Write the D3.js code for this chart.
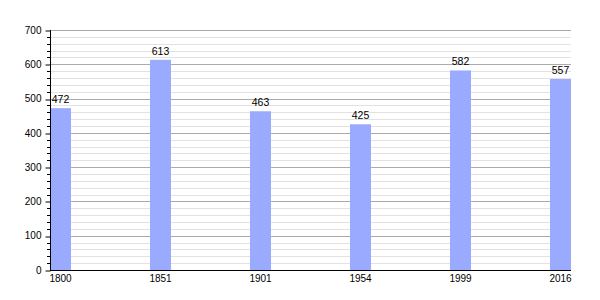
<!DOCTYPE html>
<html>
<head>
<meta charset="utf-8">
<script src="https://cdn.jsdelivr.net/npm/d3@7"></script>
<style>
  body { margin: 0; background: #fff; }
  text { font-family: "Liberation Sans", Arial, sans-serif; }
</style>
</head>
<body>
<div id="chart"></div>
<script>
// data
var years = ["1800", "1851", "1901", "1954", "1999", "2016"];
var population = [472, 613, 463, 425, 582, 557];
var yTicks = [0, 100, 200, 300, 400, 500, 600, 700];

var width = 600, height = 300;
var plotLeft = 50, plotRight = 571, plotTop = 30, plotBottom = 270;
var barWidth = 21;

var svg = d3.select("#chart")
  .append("svg")
    .attr("width", width)
    .attr("height", height);

var x = d3.scalePoint()
  .domain(years)
  .range([plotLeft, 550]);

var y = d3.scaleLinear()
  .domain([0, 700])
  .range([plotBottom, plotTop]);

// minor grid every 20
var minor = d3.range(20, 701, 20).filter(d => d % 100 != 0);
svg.append("g")
  .selectAll("line")
  .data(minor)
  .enter()
  .append("line")
    .attr("x1", plotLeft)
    .attr("x2", plotRight)
    .attr("y1", d => Math.round(y(d)) + 0.5)
    .attr("y2", d => Math.round(y(d)) + 0.5)
    .style("stroke", "#e2e2e2");

// major grid every 100
svg.append("g")
  .selectAll("line")
  .data(yTicks.slice(1))
  .enter()
  .append("line")
    .attr("x1", plotLeft)
    .attr("x2", plotRight)
    .attr("y1", d => Math.round(y(d)) + 0.5)
    .attr("y2", d => Math.round(y(d)) + 0.5)
    .style("stroke", "#ababab");

// bars
svg.append("g")
  .selectAll("rect")
  .data(years)
  .enter()
  .append("rect")
    .attr("x", d => x(d))
    .attr("y", (d, i) => y(population[i]))
    .attr("width", barWidth)
    .attr("height", (d, i) => plotBottom - y(population[i]))
    .style("fill", "#99aaff");

// value labels
svg.append("g")
  .selectAll("text")
  .data(years)
  .enter()
  .append("text")
    .attr("x", d => x(d) + barWidth / 2)
    .attr("y", (d, i) => y(population[i]) - 5)
    .attr("text-anchor", "middle")
    .attr("font-size", "10.5px")
    .attr("fill", "#000")
    .text((d, i) => population[i]);

// y axis with minor ticks
var y_axis = d3.axisLeft(y)
  .tickValues(yTicks)
  .tickSize(5)
  .tickPadding(4);
var gy = svg.append("g")
  .attr("transform", "translate(" + (plotLeft + 0.5) + ",0)")
  .call(y_axis);
gy.select(".domain").remove();
gy.selectAll("text").attr("font-size", "10px").attr("font-family", "'Liberation Sans', Arial, sans-serif");
gy.selectAll("line").attr("transform", d => "translate(0," + (Math.round(y(d)) + 0.5 - y(d)) + ")");

svg.append("g")
  .selectAll("line")
  .data(minor)
  .enter()
  .append("line")
    .attr("x1", plotLeft - 3)
    .attr("x2", plotLeft)
    .attr("y1", d => Math.round(y(d)) + 0.5)
    .attr("y2", d => Math.round(y(d)) + 0.5)
    .style("stroke", "#000");

svg.append("line")
  .attr("x1", plotLeft + 0.5)
  .attr("x2", plotLeft + 0.5)
  .attr("y1", plotTop)
  .attr("y2", plotBottom + 1)
  .style("stroke", "#000");

// x axis
svg.append("line")
  .attr("x1", plotLeft)
  .attr("x2", plotRight)
  .attr("y1", plotBottom + 0.5)
  .attr("y2", plotBottom + 0.5)
  .style("stroke", "#000");

svg.append("g")
  .selectAll("text")
  .data(years)
  .enter()
  .append("text")
    .attr("x", d => x(d) + barWidth / 2)
    .attr("y", plotBottom + 11.5)
    .attr("text-anchor", "middle")
    .attr("font-size", "10px")
    .attr("fill", "#000")
    .text(d => d);
</script>
</body>
</html>
